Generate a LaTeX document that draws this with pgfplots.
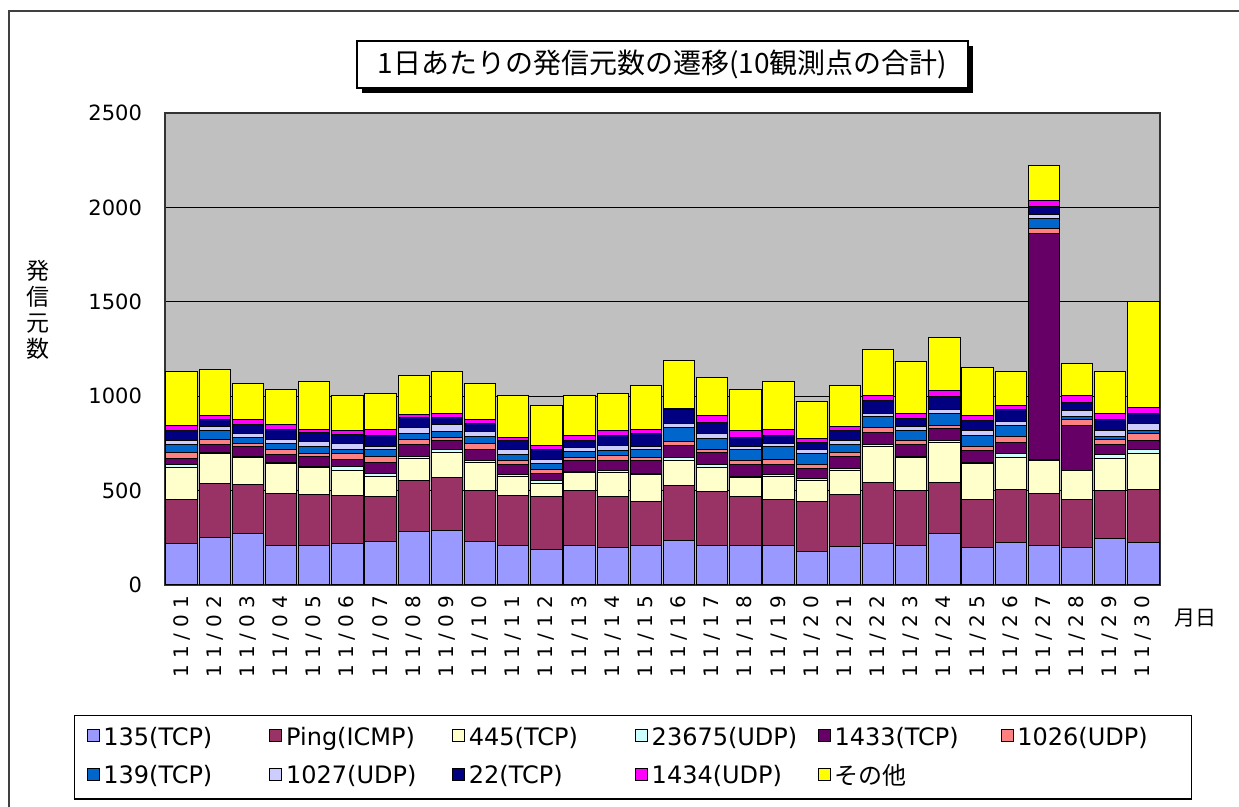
\documentclass[border=0pt]{standalone}
\usepackage{fontspec}
\setmainfont{DejaVu Sans}
\newfontfamily\jp{Noto Sans CJK JP}
\usepackage{pgfplots}
\pgfplotsset{compat=1.18}
\usepackage{pgfplotstable}

\definecolor{cA}{HTML}{9999FF}
\definecolor{cB}{HTML}{993366}
\definecolor{cC}{HTML}{FFFFCC}
\definecolor{cD}{HTML}{CCFFFF}
\definecolor{cE}{HTML}{660066}
\definecolor{cF}{HTML}{FF8080}
\definecolor{cG}{HTML}{0066CC}
\definecolor{cH}{HTML}{CCCCFF}
\definecolor{cI}{HTML}{000080}
\definecolor{cJ}{HTML}{FF00FF}
\definecolor{cK}{HTML}{FFFF00}
\definecolor{plotbg}{HTML}{C0C0C0}

\pgfplotstableread{
day s135 ping s445 s23675 s1433 s1026 s139 s1027 s22 s1434 other
1  221 234 168 13 35   30 41 23 52 30 283
2  251 287 156 7  41   30 44 26 37 21 239
3  274 256 144 6  53   18 32 21 44 27 194
4  207 279 155 7  41   30 31 22 53 23 189
5  207 270 144 6  53   17 39 23 48 19 251
6  221 252 136 18 40   30 23 30 48 19 184
7  230 238 109 11 60   32 35 18 61 27 194
8  282 269 120 9  62   31 30 30 55 16 208
9  286 284 133 17 43   19 30 39 37 21 221
10 230 270 150 12 58   30 36 26 44 23 189
11 207 266 104 9  50   21 32 30 44 19 221
12 189 279 67  18 38   22 31 22 53 19 212
13 207 296 94  3  57   19 30 21 36 31 209
14 198 270 129 7  58   23 26 27 56 22 199
15 207 234 145 5  66   19 43 14 70 23 233
16 238 288 136 12 64   21 76 18 79 5  251
17 207 287 127 18 62   19 57 26 57 40 198
18 207 261 100 9  59   21 62 17 46 34 220
19 207 247 123 9  53   28 66 17 44 32 251
20 177 264 115 9  53   21 58 18 39 23 194
21 203 274 132 9  62   21 41 23 51 26 214
22 221 321 194 6  65   28 57 17 67 25 247
23 208 290 176 9  59   22 53 22 44 26 274
24 274 268 214 8  66   17 62 21 68 31 281
25 200 255 186 9  61   25 58 22 54 27 254
26 226 281 169 18 60   32 61 18 67 21 177
27 207 279 173 7  1197 23 53 21 44 30 187
28 198 257 151 3  238  27 18 30 46 35 168
29 247 251 173 18 53   26 18 30 63 30 221
30 226 281 187 21 48   40 13 37 56 32 560
}\data

\newcommand{\legtxt}[1]{\makebox[79pt][l]{#1}}

\begin{document}
\begin{tikzpicture}
\useasboundingbox (0,0) rectangle (619.5pt,403.5pt);
\fill[white] (0,0) rectangle (619.5pt,403.5pt);
\draw[line width=1pt, black!75] (4.5pt,-2pt) -- (4.5pt,398pt) -- (622pt,398pt);

% title
\fill[black] (181pt,357pt) rectangle (486.5pt,380.5pt);
\draw[fill=white, line width=0.6pt] (178.5pt,359.5pt) rectangle (484pt,383pt);
\node at (331.25pt,371.25pt) {\jp\fontsize{14}{16}\selectfont 1日あたりの発信元数の遷移(10観測点の合計)};

% y label
\node[align=center, font=\jp\fontsize{11.5}{13}\selectfont] at (19pt,248.5pt) {発\\信\\元\\数};
% x label
\node[font=\jp\fontsize{10.5}{12}\selectfont] at (597.5pt,94.5pt) {月日};

\begin{axis}[
  at={(82.5pt,111pt)}, anchor=south west,
  scale only axis, width=497.5pt, height=236pt,
  ybar stacked, bar width=0.94,
  xmin=0.5, xmax=30.5, ymin=0, ymax=2500,
  axis background/.style={fill=plotbg},
  axis line style={black!80, line width=0.6pt},
  xtick={1,...,30},
  xticklabels={11/01,11/02,11/03,11/04,11/05,11/06,11/07,11/08,11/09,11/10,11/11,11/12,11/13,11/14,11/15,11/16,11/17,11/18,11/19,11/20,11/21,11/22,11/23,11/24,11/25,11/26,11/27,11/28,11/29,11/30},
  x tick label style={rotate=90, anchor=east, font=\fontsize{10}{12}\selectfont\addfontfeatures{LetterSpace=30}},
  xticklabel shift=2pt,
  major x tick style={draw=none},
  ytick={0,500,...,2500},
  y tick label style={font=\fontsize{10.5}{12}\selectfont, /pgf/number format/1000 sep={}},
  /pgf/number format/assume math mode=true,
  yticklabel shift=8pt,
  ytick align=inside, major tick length=3pt,
  major y tick style={black, line width=0.5pt},
  ymajorgrids, grid style={black, line width=0.6pt},
  every axis plot/.append style={draw=black, line width=0.5pt},
  legend columns=6,
  legend image code/.code={\draw[#1, draw=black, line width=0.4pt] (0pt,-2pt) rectangle (6pt,4pt);},
  legend style={at={(axis description cs:-0.0915,-0.2754)}, anchor=north west,
    draw=black, line width=0.6pt, font=\fontsize{12}{14}\selectfont,
    inner xsep=6pt, inner ysep=3.6pt, row sep=4.3pt,
    /tikz/every even column/.append style={column sep=2pt},
    /tikz/every odd column/.append style={column sep=0pt}},
]
\addplot[fill=cA] table[x=day,y=s135]{\data};
\addplot[fill=cB] table[x=day,y=ping]{\data};
\addplot[fill=cC] table[x=day,y=s445]{\data};
\addplot[fill=cD] table[x=day,y=s23675]{\data};
\addplot[fill=cE] table[x=day,y=s1433]{\data};
\addplot[fill=cF] table[x=day,y=s1026]{\data};
\addplot[fill=cG] table[x=day,y=s139]{\data};
\addplot[fill=cH] table[x=day,y=s1027]{\data};
\addplot[fill=cI] table[x=day,y=s22]{\data};
\addplot[fill=cJ] table[x=day,y=s1434]{\data};
\addplot[fill=cK] table[x=day,y=other]{\data};
\legend{\legtxt{135(TCP)},\legtxt{Ping(ICMP)},\legtxt{445(TCP)},\legtxt{23675(UDP)},\legtxt{1433(TCP)},\legtxt{1026(UDP)},\legtxt{139(TCP)},\legtxt{1027(UDP)},\legtxt{22(TCP)},\legtxt{1434(UDP)},\legtxt{{\jp その他}}}
\end{axis}
\end{tikzpicture}
\end{document}
